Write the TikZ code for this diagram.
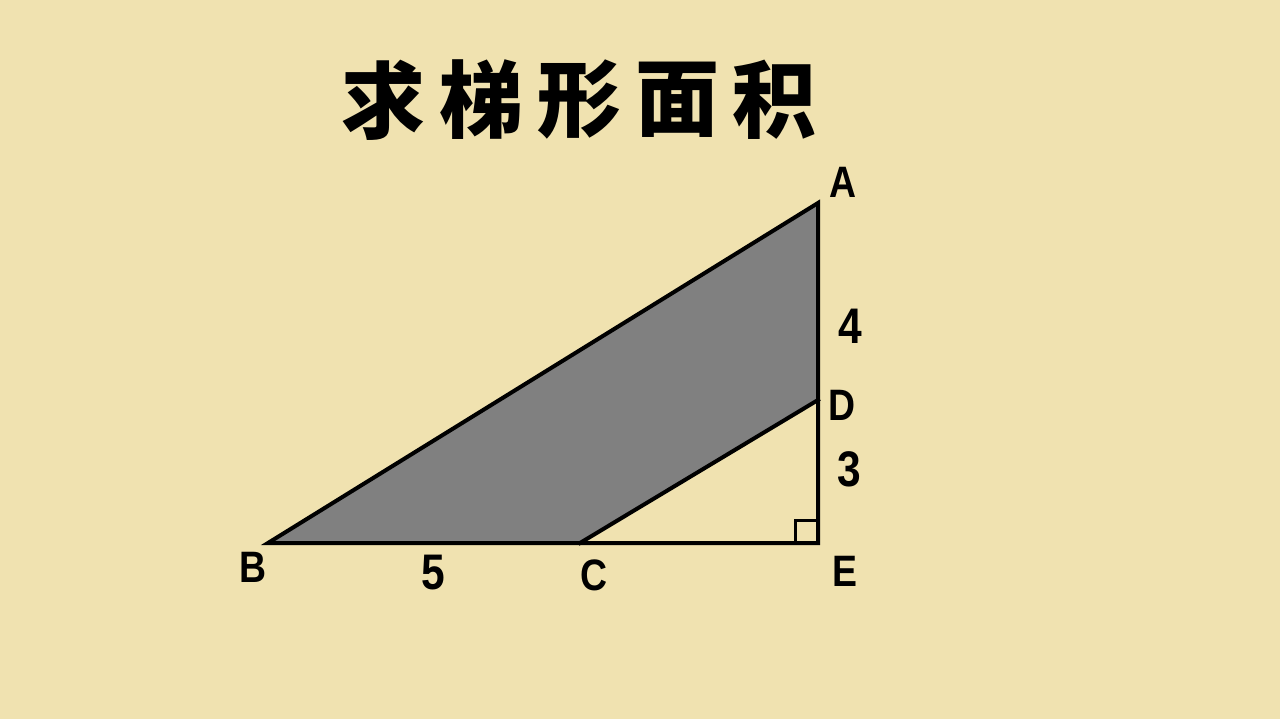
\documentclass[tikz,border=0pt]{standalone}
\usepackage{fontspec}
\setmainfont{Liberation Sans}
\newfontfamily\cjk{Noto Sans CJK SC Black}
\definecolor{bg}{RGB}{240,226,176}
\definecolor{greyfill}{RGB}{128,128,128}
\begin{document}
\begin{tikzpicture}[x=1pt,y=-1pt,
  edge/.style={line width=4pt,line join=miter,line cap=rect},
  lbl/.style={font=\fontsize{44}{44}\selectfont\bfseries,xscale=0.85,inner sep=0},
  num/.style={font=\fontsize{50}{50}\selectfont\bfseries,xscale=0.85,inner sep=0},
  ttl/.style={font=\cjk\fontsize{84}{84}\selectfont,inner sep=0}]
\fill[bg] (0,0) rectangle (1280,719);
\useasboundingbox (0,0) rectangle (1280,719);
\coordinate (A) at (818,203);
\coordinate (B) at (268,543);
\coordinate (C) at (580,543);
\coordinate (D) at (818,400);
\coordinate (E) at (818,543);
\fill[fill=greyfill] (A) -- (B) -- (C) -- (D) -- cycle;
\draw[edge] (A) -- (B) -- (E) -- cycle;
\draw[edge] (C) -- (D);
\draw[line width=3pt] ([xshift=-23pt]E) -- ++(0,-23) -- ++(23,0);
\node[ttl] (t1) at (383,100) {求};
\node[ttl] (t2) at (481,100) {梯};
\node[ttl] (t3) at (579,100) {形};
\node[ttl] (t4) at (677,100) {面};
\node[ttl] (t5) at (774,100) {积};
\node[lbl] (la) at (843,182) {A};
\node[lbl] (ld) at (842,405) {D};
\node[lbl] (le) at (845,571) {E};
\node[lbl] (lb) at (253,567) {B};
\node[lbl] (lc) at (594,575) {C};
\node[num] (n4) at (850,326) {4};
\node[num] (n3) at (849,469) {3};
\node[num] (n5) at (433,573) {5};
\end{tikzpicture}
\end{document}
